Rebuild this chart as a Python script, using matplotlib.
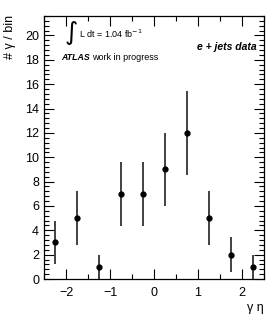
import matplotlib
matplotlib.use("Agg")
import matplotlib.pyplot as plt
from matplotlib.ticker import MultipleLocator

plt.rcParams['font.family'] = ['Liberation Sans', 'DejaVu Sans']

eta_centers = [-2.25, -1.75, -1.25, -0.75, -0.25, 0.25, 0.75, 1.25, 1.75, 2.25]
counts = [3, 5, 1, 7, 7, 9, 12, 5, 2, 1]
errors = [1.73, 2.24, 1.0, 2.65, 2.65, 3.0, 3.46, 2.24, 1.41, 1.0]

fig = plt.figure(figsize=(2.79, 3.32), dpi=100)
ax = fig.add_axes([44/279, 1 - 279/332, 220/279, 263/332])

ax.errorbar(eta_centers, counts, yerr=errors, fmt='o', color='black',
            ecolor='#333333', elinewidth=1.3, markersize=3.5, capsize=0)

ax.set_xlim(-2.5, 2.5)
ax.set_ylim(0, 21.6)
ax.xaxis.set_major_locator(MultipleLocator(1))
ax.xaxis.set_minor_locator(MultipleLocator(0.5))
ax.yaxis.set_major_locator(MultipleLocator(2))
ax.yaxis.set_minor_locator(MultipleLocator(0.4))
ax.tick_params(which='both', direction='in', top=True, right=True, labelsize=9, width=0.8)
ax.tick_params(which='major', length=7)
ax.tick_params(which='minor', length=3.5)
ax.tick_params(axis='x', pad=6)
for s in ax.spines.values():
    s.set_linewidth(0.9)

fig.text(10/279, 1 - 15/332, '# γ / bin', rotation=90, ha='center', va='top', fontsize=9)
fig.text(264/279, 1 - 308/332, 'γ η', ha='right', va='center', fontsize=9)

ax.text(0.152, 0.935, r'$\int$', transform=ax.transAxes, fontsize=13, va='center', ha='right')
ax.text(0.16, 0.932, 'L dt = 1.04 fb$^{-1}$', transform=ax.transAxes, fontsize=6.5, va='center', ha='left')
atl = ax.text(0.077, 0.844, 'ATLAS', transform=ax.transAxes, fontsize=6.3, fontweight='bold',
              fontstyle='italic', va='center', ha='left')
ax.annotate('work in progress', xy=(1, 0.5), xycoords=atl, xytext=(2, 0),
            textcoords='offset points', fontsize=6.5, va='center', ha='left')
ax.text(0.965, 0.882, 'e + jets data', transform=ax.transAxes, fontsize=7.5, fontweight='bold',
        fontstyle='italic', va='center', ha='right')

fig.savefig('out.png', dpi=100)
